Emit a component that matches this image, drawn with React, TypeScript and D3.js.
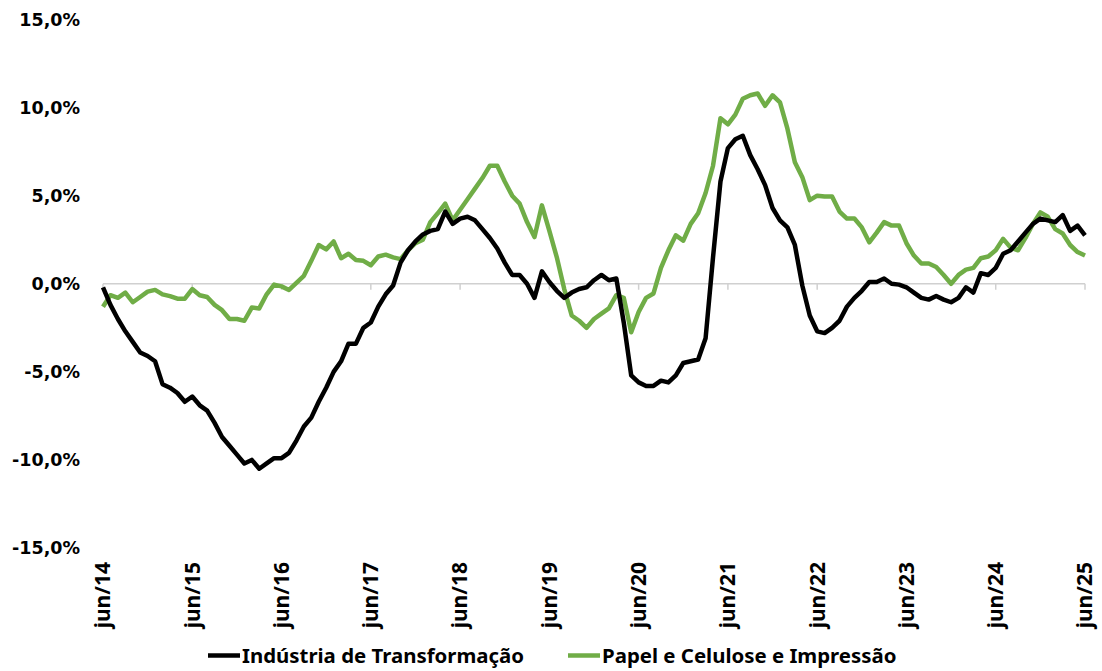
import React from 'react';
import * as d3 from 'd3';

// monthly values, jun/14 .. jun/25 (% a.a.)
const industria = [
  -0.2, -1.2, -2.0, -2.7, -3.3, -3.9, -4.1, -4.4, -5.7, -5.9, -6.2, -6.7,
  -6.4, -6.9, -7.2, -7.9, -8.7, -9.2, -9.7, -10.2, -10.0, -10.5, -10.2, -9.9,
  -9.9, -9.6, -8.9, -8.1, -7.6, -6.7, -5.9, -5.0, -4.4, -3.4, -3.4, -2.5,
  -2.2, -1.3, -0.6, -0.1, 1.2, 1.9, 2.4, 2.8, 3.0, 3.1, 4.1, 3.4,
  3.7, 3.8, 3.6, 3.1, 2.6, 2.0, 1.2, 0.5, 0.5, 0.0, -0.8, 0.7,
  0.1, -0.4, -0.8, -0.5, -0.3, -0.2, 0.2, 0.5, 0.2, 0.3, -2.2, -5.2,
  -5.6, -5.8, -5.8, -5.5, -5.6, -5.2, -4.5, -4.4, -4.3, -3.1, 1.5, 5.8,
  7.7, 8.2, 8.4, 7.3, 6.5, 5.6, 4.3, 3.6, 3.2, 2.2, -0.1, -1.8,
  -2.7, -2.8, -2.5, -2.1, -1.3, -0.8, -0.4, 0.1, 0.1, 0.3, 0.0, -0.05,
  -0.2, -0.5, -0.8, -0.9, -0.7, -0.9, -1.05, -0.8, -0.2, -0.5, 0.6, 0.5,
  0.9, 1.7, 1.9, 2.4, 2.9, 3.4, 3.7, 3.6, 3.5, 3.9, 3.0, 3.3,
  2.75,
];

const papel = [
  -1.3, -0.65, -0.8, -0.5, -1.05, -0.75, -0.45, -0.35, -0.6, -0.7, -0.85, -0.85,
  -0.3, -0.65, -0.75, -1.2, -1.5, -2.0, -2.0, -2.1, -1.35, -1.4, -0.6, -0.05,
  -0.15, -0.35, 0.05, 0.45, 1.3, 2.2, 1.95, 2.4, 1.45, 1.7, 1.35, 1.3,
  1.05, 1.55, 1.65, 1.5, 1.4, 1.9, 2.3, 2.5, 3.5, 4.0, 4.55, 3.6,
  4.2, 4.8, 5.4, 6.0, 6.7, 6.7, 5.8, 5.0, 4.55, 3.5, 2.65, 4.45,
  3.0, 1.5, -0.3, -1.8, -2.1, -2.5, -2.0, -1.7, -1.4, -0.65, -0.8, -2.75,
  -1.6, -0.8, -0.55, 0.9, 1.9, 2.75, 2.45, 3.4, 4.0, 5.15, 6.7, 9.4,
  9.05, 9.6, 10.5, 10.7, 10.8, 10.1, 10.7, 10.3, 8.8, 6.9, 6.05, 4.75,
  5.0, 4.95, 4.95, 4.1, 3.7, 3.7, 3.2, 2.35, 2.9, 3.5, 3.3, 3.3,
  2.3, 1.6, 1.15, 1.15, 0.95, 0.5, 0.0, 0.5, 0.8, 0.9, 1.45, 1.55,
  1.9, 2.55, 2.05, 1.9, 2.6, 3.4, 4.05, 3.8, 3.1, 2.85, 2.2, 1.8,
  1.6,
];

const tickLabels = ['jun/14', 'jun/15', 'jun/16', 'jun/17', 'jun/18', 'jun/19', 'jun/20', 'jun/21', 'jun/22', 'jun/23', 'jun/24', 'jun/25'];
const yTicks = [-15, -10, -5, 0, 5, 10, 15];
const seriesNames = ['Indústria de Transformação', 'Papel e Celulose e Impressão'];
const colors = ['#000000', '#70ad47'];

const W = 1102;
const H = 671;

export default function App() {
  const x = d3.scaleLinear().domain([0, industria.length - 1]).range([103, 1085]);
  const y = d3.scaleLinear().domain([-15, 15]).range([548, 19.5]);

  const line = d3.line<number>()
    .x((_, i) => x(i))
    .y(d => y(d));

  const fmt = (v: number) => v.toFixed(1).replace('.', ',') + '%';
  const labelFont = '"Noto Sans", sans-serif';

  return (
    <svg width={W} height={H} style={{ position: 'absolute', left: 0, top: 0, background: '#fff' }}>
      {/* zero line + year ticks */}
      <line x1={x(0)} x2={x(industria.length - 1)} y1={y(0)} y2={y(0)} stroke="#d0d0d0" strokeWidth={1.5} />
      {tickLabels.map((t, k) => (
        <line key={t} x1={x(k * 12)} x2={x(k * 12)} y1={y(0)} y2={y(0) + 6} stroke="#d0d0d0" strokeWidth={1.5} />
      ))}

      {/* y labels */}
      {yTicks.map(v => (
        <text key={v} x={80} y={y(v)} dy="0.35em" textAnchor="end"
          fontFamily='"DejaVu Sans", Verdana, sans-serif' fontWeight="bold" fontSize={17.5} fill="#000">
          {fmt(v)}
        </text>
      ))}

      {/* x labels */}
      {tickLabels.map((t, k) => (
        <text key={t} transform={`translate(${x(k * 12)},562) rotate(-90)`} dy="0.35em" textAnchor="end"
          fontFamily={labelFont} fontWeight="bold" fontSize={21} fill="#000">
          {t}
        </text>
      ))}

      {/* series */}
      <path d={line(papel) ?? ''} fill="none" stroke={colors[1]} strokeWidth={4.5} strokeLinejoin="round" />
      <path d={line(industria) ?? ''} fill="none" stroke={colors[0]} strokeWidth={4.5} strokeLinejoin="round" />

      {/* legend */}
      {seriesNames.map((name, i) => {
        const lx = i === 0 ? 208 : 568;
        return (
          <g key={name}>
            <line x1={lx} x2={lx + 32} y1={655.5} y2={655.5} stroke={colors[i]} strokeWidth={4.5} />
            <text x={lx + 34} y={655.5} dy="0.35em" fontFamily={labelFont} fontWeight="bold" fontSize={20.4} fill="#000">
              {name}
            </text>
          </g>
        );
      })}
    </svg>
  );
}
